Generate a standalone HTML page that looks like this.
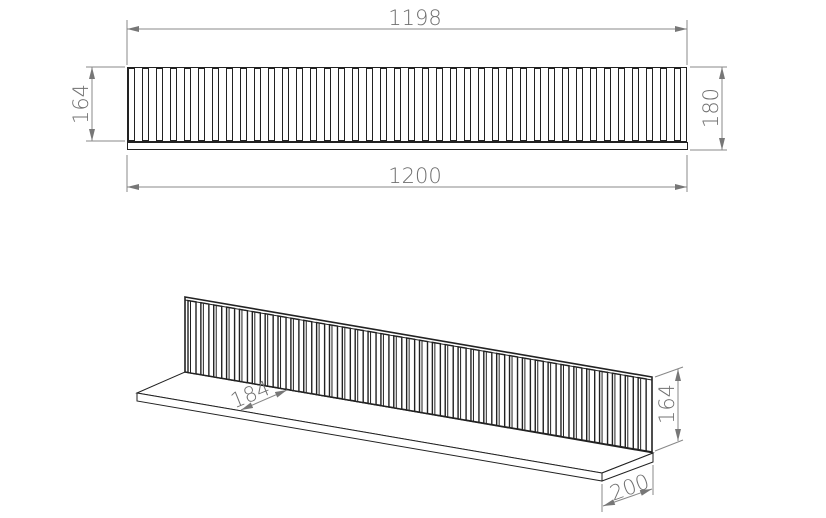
<!DOCTYPE html>
<html><head><style>
html,body{margin:0;padding:0;background:#fff;width:826px;height:518px;overflow:hidden}
text{font-family:"DejaVu Sans","Liberation Sans",sans-serif;fill:#707070;font-size:21px;font-weight:200}
</style></head><body>
<svg id="s" width="826" height="518" viewBox="0 0 826 518" xmlns="http://www.w3.org/2000/svg">
<defs>
<marker id="a" viewBox="0 0 12 6" refX="12" refY="3" markerWidth="12" markerHeight="6" orient="auto-start-reverse" markerUnits="userSpaceOnUse"><path d="M0,0 L12,3 L0,6 Z" fill="#777"/></marker>
</defs>
<g id="topv" stroke="#222" fill="#fff" stroke-width="1">
<rect x="127.5" y="67.5" width="559" height="74"/>
<rect x="127.5" y="142.5" width="560" height="7"/>
</g>
<g id="iso" stroke="#222" fill="#fff" stroke-width="1">
<polygon points="137,393 185,372 653,453 602,473"/>
<polygon points="137,393 602,473 602,481 137,401"/>
<polygon points="602,473 653,453 653,462 602,481"/>
<polygon points="185,297 652,377 652,452 185,372" stroke-width="1.6"/>
</g>
<g stroke="#888" stroke-width="1" fill="none">
<line x1="127" y1="20" x2="127" y2="65"/><line x1="687" y1="20" x2="687" y2="65"/>
<line x1="127" y1="29" x2="687" y2="29" marker-start="url(#a)" marker-end="url(#a)"/>
<line x1="127" y1="155" x2="127" y2="192"/><line x1="687" y1="155" x2="687" y2="192"/>
<line x1="127" y1="187" x2="687" y2="187" marker-start="url(#a)" marker-end="url(#a)"/>
<line x1="86" y1="67" x2="125" y2="67"/><line x1="86" y1="141" x2="125" y2="141"/>
<line x1="92" y1="67" x2="92" y2="141" marker-start="url(#a)" marker-end="url(#a)"/>
<line x1="690" y1="67" x2="727" y2="67"/><line x1="690" y1="150" x2="727" y2="150"/>
<line x1="722" y1="67" x2="722" y2="150" marker-start="url(#a)" marker-end="url(#a)"/>
<line x1="655" y1="377" x2="683" y2="367"/><line x1="655" y1="451" x2="683" y2="440"/>
<line x1="678" y1="369" x2="678" y2="441" marker-start="url(#a)" marker-end="url(#a)"/>
<line x1="602" y1="484" x2="602" y2="512"/><line x1="653" y1="465" x2="653" y2="495"/>
<line x1="603" y1="506" x2="652" y2="489" marker-start="url(#a)" marker-end="url(#a)"/>
<line x1="241" y1="410" x2="287" y2="390" marker-start="url(#a)" marker-end="url(#a)"/>
</g>
<text x="415" y="25" text-anchor="middle">1198</text>
<text x="415" y="183" text-anchor="middle">1200</text>
<text transform="translate(88,104) rotate(-90)" text-anchor="middle">164</text>
<text transform="translate(718,108) rotate(-90)" text-anchor="middle">180</text>
<text transform="translate(674,404) rotate(-90)" text-anchor="middle">164</text>
<text transform="translate(632,494) rotate(-20)" text-anchor="middle">200</text>
<text transform="translate(253,401) rotate(-22)" text-anchor="middle">184</text>
</svg>
<script>
(function(){
var ns='http://www.w3.org/2000/svg';
function el(t,a,p){var e=document.createElementNS(ns,t);for(var k in a)e.setAttribute(k,a[k]);p.appendChild(e);}
var tv=document.getElementById('topv');
for(var i=0;i<40;i++){var x=128.5+i*14;el('rect',{x:x,y:68.5,width:6,height:72},tv);}
var iso=document.getElementById('iso');
var n=36,x0=185,x1=652,sl=(377-297)/(652-185);
for(var i=0;i<n;i++){var xa=x0+3+i*(x1-x0-4)/n,xb=xa+8;
var ya=297+(xa-x0)*sl+3,yb=297+(xb-x0)*sl+3;
el('polygon',{points:xa+','+ya+' '+xb+','+yb+' '+xb+','+(yb+72)+' '+xa+','+(ya+72),'stroke-width':1.4},iso);
el('line',{x1:xa+2.5,y1:ya+1,x2:xa+2.5,y2:ya+72,'stroke-width':1},iso);}
el('line',{x1:185,y1:300,x2:652,y2:380},iso);
})();
</script>
</body></html>
